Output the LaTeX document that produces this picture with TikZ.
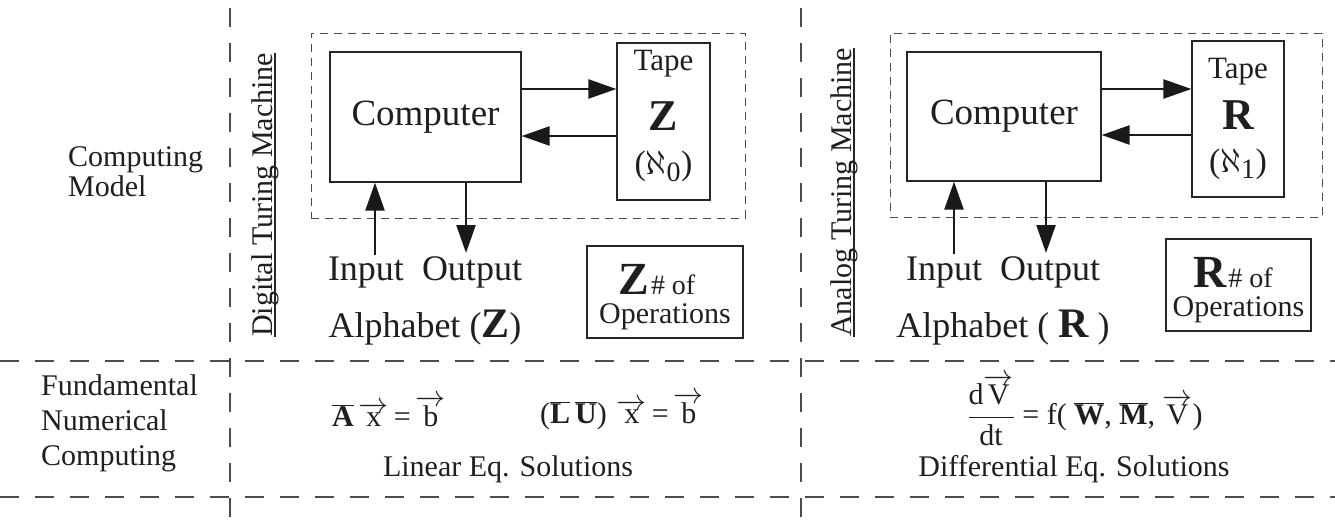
\documentclass[tikz,border=0pt]{standalone}
\usepackage{fix-cm}
\usepackage{fontspec}
\setmainfont{Liberation Serif}
\usetikzlibrary{arrows.meta}
\newcommand{\fsz}[1]{\fontsize{#1}{#1}\selectfont}
\begin{document}
\begin{tikzpicture}[x=1pt,y=-1pt,
  gridline/.style={draw=black!70, line width=1.4pt, dash pattern=on 19pt off 16pt},
  frame/.style={draw=black!70, line width=1pt, dash pattern=on 8pt off 6pt, inner sep=0pt},
  box/.style={draw=black!85, line width=1.3pt, inner sep=0pt},
  arr/.style={draw=black!90, line width=2.4pt, -{Triangle[length=28pt,width=19pt]}},
  txt/.style={inner sep=0pt, text=black!88},
  uline/.style={draw=black!85, line width=1.4pt},
]
\useasboundingbox (0,0) rectangle (1335,523);

% grid
\coordinate (h1l) at (0,361);  \coordinate (h1r) at (1335,361);
\coordinate (h2l) at (0,497);  \coordinate (h2r) at (1335,497);
\coordinate (v1t) at (230,8);  \coordinate (v1b) at (230,523);
\coordinate (v2t) at (801,8);  \coordinate (v2b) at (801,523);
\draw[gridline] (h1l) -- (h1r);
\draw[gridline] (h2l) -- (h2r);
\draw[gridline] (v1t) -- (v1b);
\draw[gridline] (v2t) -- (v2b);

% row labels
\node[txt, align=left, anchor=west, font=\fontsize{30}{30}\selectfont] (cm) at (68,172) {Computing\\Model};
\node[txt, align=left, anchor=west, font=\fontsize{30}{35}\selectfont] (fnc) at (41,423) {Fundamental\\Numerical\\Computing};

% ---------------- Digital panel ----------------
\node[frame, minimum width=434pt, minimum height=185pt] (fr1) at (528,125.5) {};
\node[box, minimum width=191pt, minimum height=130pt, text=black!88, font=\fsz{37}] (comp1) at (425.5,117) {Computer};
\node[box, minimum width=93pt, minimum height=157pt] (tape1) at (663.5,121.5) {};
\node[txt, font=\fsz{31}] (tape1a) at (663.5,64) {Tape};
\node[txt, font=\fsz{44}\bfseries] (tape1b) at (663.5,116) {Z};
\node[txt, font=\fsz{34}] (tape1c) at (663.5,166) {($\aleph_{\mbox{\fsz{28}0}}$)};

\coordinate (a1) at (0,89); \coordinate (b1) at (0,136);
\draw[arr] (comp1.east |- a1) -- (tape1.west |- a1);
\draw[arr] (tape1.west |- b1) -- (comp1.east |- b1);
\coordinate (in1) at (375,255); \coordinate (out1) at (466,253);
\draw[arr] (in1) -- (in1 |- comp1.south);
\draw[arr] (out1 |- comp1.south) -- (out1);

\node[txt, font=\fsz{36}] (io1) at (425,272) {Input\ \ Output};
\node[txt, font=\fsz{36}] (al1) at (425,328) {Alphabet ({\fsz{42}\bfseries Z})};

\node[box, minimum width=156pt, minimum height=92pt] (zb1) at (665,292) {};
\node[txt] (zb1a) at (657,280) {{\fsz{46}\bfseries Z}\,{\fsz{28}\# of}};
\node[txt, font=\fsz{30}] (zb1b) at (665,317) {Operations};

\node[txt, rotate=90, anchor=base west, font=\fsz{30}] (dtm) at (272,337) {Digital Turing Machine};
\draw[uline] ([xshift=3pt]dtm.base west) -- ([xshift=3pt]dtm.base east);

% ---------------- Analog panel ----------------
\node[frame, minimum width=432pt, minimum height=184pt] (fr2) at (1106,125) {};
\node[box, minimum width=194pt, minimum height=129pt, text=black!88, font=\fsz{37}] (comp2) at (1004,116.5) {Computer};
\node[box, minimum width=92pt, minimum height=156pt] (tape2) at (1238,119) {};
\node[txt, font=\fsz{31}] (tape2a) at (1238,72) {Tape};
\node[txt, font=\fsz{44}\bfseries] (tape2b) at (1238,115) {R};
\node[txt, font=\fsz{34}] (tape2c) at (1238,164) {($\aleph_{\mbox{\fsz{28}1}}$)};

\coordinate (a2) at (0,89); \coordinate (b2) at (0,135);
\draw[arr] (comp2.east |- a2) -- (tape2.west |- a2);
\draw[arr] (tape2.west |- b2) -- (comp2.east |- b2);
\coordinate (in2) at (954,254); \coordinate (out2) at (1046,253);
\draw[arr] (in2) -- (in2 |- comp2.south);
\draw[arr] (out2 |- comp2.south) -- (out2);

\node[txt, font=\fsz{36}] (io2) at (1003,272) {Input\ \ Output};
\node[txt, font=\fsz{36}] (al2) at (1003,328) {Alphabet ( {\fsz{42}\bfseries R} )};

\node[box, minimum width=145pt, minimum height=92pt] (rb2) at (1238.5,285) {};
\node[txt] (rb2a) at (1233,273) {{\fsz{46}\bfseries R}\,{\fsz{28}\# of}};
\node[txt, font=\fsz{30}] (rb2b) at (1238.5,310) {Operations};

\node[txt, rotate=90, anchor=base west, font=\fsz{30}] (atm) at (851,337) {Analog Turing Machine};
\draw[uline] ([xshift=3pt]atm.base west) -- ([xshift=3pt]atm.base east);

% ---------------- Bottom row ----------------
\node[txt, font=\fsz{30}] (eq1) at (389,411) {$\overline{\mbox{\bfseries A}}\,\overrightarrow{\mbox{x}}$\,=\,$\overrightarrow{\mbox{b}}$};
\node[txt, font=\fsz{30}] (eq2) at (622,411) {($\overline{\mbox{\bfseries L}}\,\overline{\mbox{\bfseries U}}$)\,\,$\overrightarrow{\mbox{x}}$\,=\,$\overrightarrow{\mbox{b}}$};
\node[txt, font=\fsz{30}] (les) at (508,469) {Linear Eq. Solutions};

\node[txt, font=\fsz{30}] (eq3) at (1085,410) {$\displaystyle\frac{\mbox{d}\overrightarrow{\mbox{V}}}{\mbox{dt}}$ = f( $\overline{\mbox{\bfseries W}}$, $\overline{\mbox{\bfseries M}}$, $\overrightarrow{\mbox{V}}$)};
\node[txt, font=\fsz{30}] (des) at (1074,469) {Differential Eq. Solutions};
\end{tikzpicture}
\end{document}
